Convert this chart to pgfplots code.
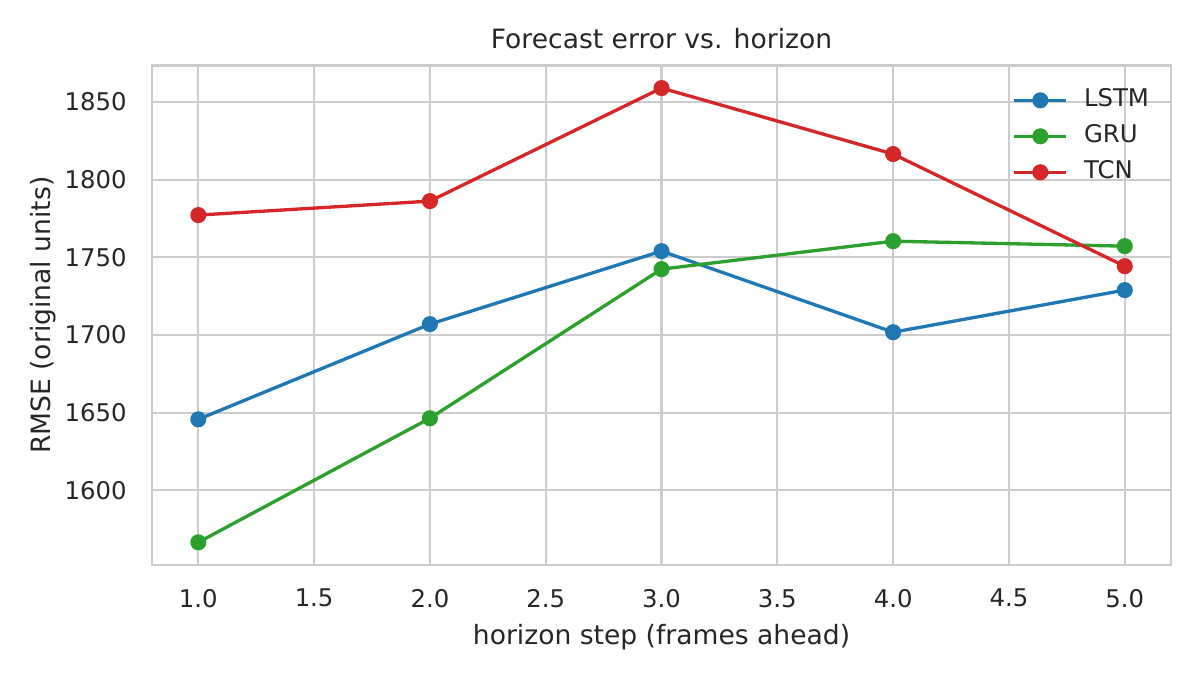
\documentclass[border=0pt]{standalone}
\usepackage{fontspec}
\setmainfont{DejaVu Sans}
\usepackage{pgfplots}
\pgfplotsset{compat=1.18}
\definecolor{tabblue}{HTML}{1F77B4}
\definecolor{tabgreen}{HTML}{2CA02C}
\definecolor{tabred}{HTML}{D62728}
\definecolor{gridgray}{HTML}{CCCCCC}
\definecolor{txt}{HTML}{262626}

\begin{document}
\begin{tikzpicture}
\begin{axis}[
	scale only axis,
	width=368.3pt, height=180.5pt,
	xmin=0.8, xmax=5.2,
	ymin=1551.9, ymax=1873.5,
	xtick={1,1.5,...,5},
	ytick={1600,1650,...,1850},
	major tick length=0pt,
	grid=major,
	major grid style={gridgray, line width=0.8pt},
	axis line style={gridgray, line width=1pt},
	/pgf/number format/assume math mode=true,
	xticklabel style={/pgf/number format/fixed, /pgf/number format/fixed zerofill,
		/pgf/number format/precision=1, anchor=north, yshift=-8.5pt},
	yticklabel style={/pgf/number format/1000 sep={}, anchor=east, xshift=-9pt},
	tick label style={font=\fontsize{8.8}{10}\selectfont, color=txt, inner sep=0pt},
	label style={font=\fontsize{9.6}{11}\selectfont, color=txt, inner sep=0pt},
	title style={font=\fontsize{9.6}{11}\selectfont, color=txt, inner sep=0pt,
		at={(axis description cs:0.5,1)}, anchor=base, yshift=0.2pt},
	xlabel style={at={(axis description cs:0.5,0)}, anchor=base, yshift=-28.6pt},
	ylabel style={at={(axis description cs:0,0.5)}, anchor=base, yshift=36.6pt},
	title={Forecast error vs. horizon},
	xlabel={horizon step (frames ahead)},
	ylabel={RMSE (original units)},
	every axis plot/.append style={line width=1.2pt, mark=*, mark size=2.3pt},
	legend image code/.code={\draw[mark repeat=2, mark phase=2]
		plot coordinates {(0pt,0pt) (9.4pt,0pt) (18.8pt,0pt)};},
	legend style={at={(axis description cs:0.844,0.955)}, anchor=north west,
		draw=none, fill=none, inner sep=0pt, row sep=4.5pt,
		font=\fontsize{8.8}{10}\selectfont, text=txt,
		nodes={inner sep=0pt, text height=6.5pt, text depth=2pt},
		column sep=5.8pt},
	legend cell align=left,
]
\addplot[tabblue, mark options={fill=tabblue, draw=tabblue}] coordinates {
(1, 1645.7) (2, 1707.0) (3, 1754.0) (4, 1701.8) (5, 1728.9)
};
\addlegendentry{LSTM}
\addplot[tabgreen, mark options={fill=tabgreen, draw=tabgreen}] coordinates {
(1, 1566.5) (2, 1646.4) (3, 1742.4) (4, 1760.4) (5, 1757.2)
};
\addlegendentry{GRU}
\addplot[tabred, mark options={fill=tabred, draw=tabred}] coordinates {
(1, 1777.2) (2, 1786.2) (3, 1859.0) (4, 1816.5) (5, 1744.3)
};
\addlegendentry{TCN}
\end{axis}
\pgfresetboundingbox
\path[use as bounding box] (-54.93pt,-41.56pt) rectangle (378.75pt,204.19pt);
\end{tikzpicture}
\end{document}
